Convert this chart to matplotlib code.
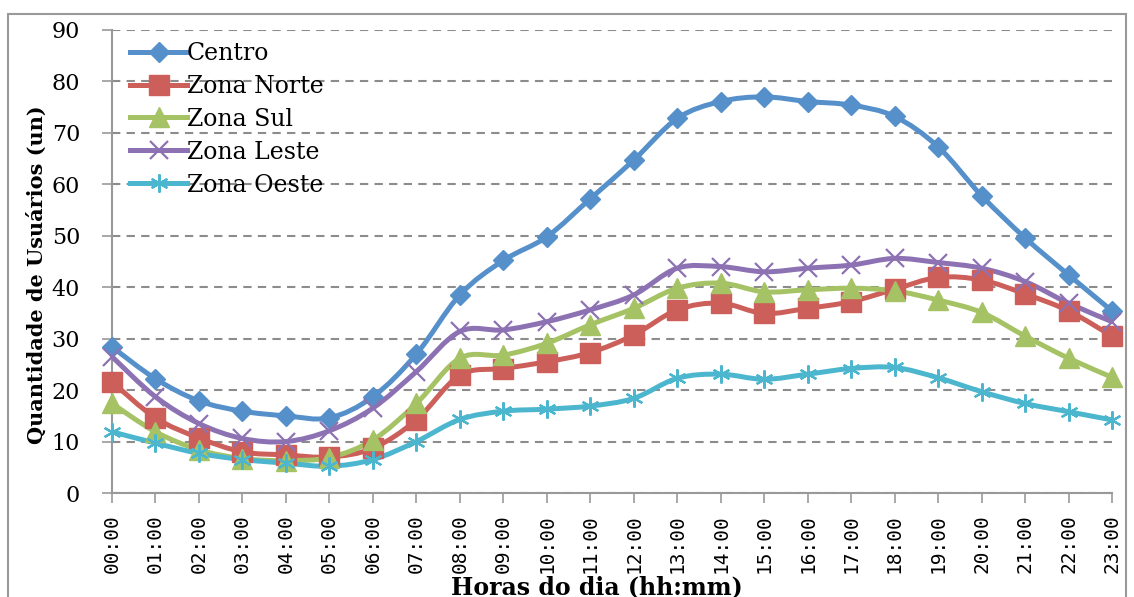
import numpy as np
import matplotlib
matplotlib.use('Agg')
import matplotlib.pyplot as plt
from matplotlib.path import Path
from matplotlib.patches import PathPatch, Rectangle
from matplotlib.lines import Line2D

# dados
horas = ['%02d:00' % h for h in range(24)]
centro = [28.4, 22.2, 17.9, 15.9, 15.0, 14.6, 18.7, 27.0, 38.5, 45.2, 49.8, 57.2,
          64.7, 72.8, 76.1, 77.0, 76.1, 75.4, 73.2, 67.3, 57.8, 49.6, 42.4, 35.4]
zona_norte = [21.6, 14.6, 10.7, 8.0, 7.4, 7.0, 8.7, 14.2, 22.9, 24.2, 25.5, 27.3,
              30.7, 35.6, 36.9, 34.9, 35.9, 37.2, 39.6, 41.9, 41.4, 38.7, 35.4, 30.5]
zona_sul = [17.4, 11.9, 8.4, 6.7, 6.3, 6.9, 10.3, 17.4, 26.2, 26.8, 29.1, 32.7,
            35.9, 39.8, 40.8, 39.1, 39.5, 39.8, 39.3, 37.5, 35.1, 30.5, 26.2, 22.5]
zona_leste = [26.5, 18.7, 13.5, 10.6, 10.0, 12.1, 16.5, 23.6, 31.4, 31.7, 33.3, 35.6,
              38.5, 43.7, 44.0, 43.0, 43.7, 44.3, 45.6, 44.8, 43.7, 41.1, 36.9, 33.3]
zona_oeste = [11.9, 9.7, 7.7, 6.5, 5.8, 5.2, 6.5, 10.0, 14.3, 15.9, 16.3, 16.9,
              18.4, 22.3, 23.1, 22.1, 23.1, 24.2, 24.4, 22.4, 19.7, 17.4, 15.8, 14.2]

# nome, valores, cor, marcador, tamanho, espessura do marcador
series = [
    ('Centro', centro, '#5590CB', 'D', 10, 1),
    ('Zona Norte', zona_norte, '#CD5F5A', 's', 14, 1),
    ('Zona Sul', zona_sul, '#A5C264', '^', 14, 1),
    ('Zona Leste', zona_leste, '#8D72B3', 'x', 13, 1.6),
    ('Zona Oeste', zona_oeste, '#4DB6CF', (6, 2, 0), 13, 1.6),
]


def smooth_path(x, y):
    # curva suavizada tipo excel (bezier cubica)
    x = np.asarray(x, float)
    y = np.asarray(y, float)
    n = len(x)
    verts = [(x[0], y[0])]
    codes = [Path.MOVETO]
    for i in range(n - 1):
        i0 = max(i - 1, 0)
        i3 = min(i + 2, n - 1)
        c1 = (x[i] + (x[i + 1] - x[i0]) / 6.0, y[i] + (y[i + 1] - y[i0]) / 6.0)
        c2 = (x[i + 1] - (x[i3] - x[i]) / 6.0, y[i + 1] - (y[i3] - y[i]) / 6.0)
        verts += [c1, c2, (x[i + 1], y[i + 1])]
        codes += [Path.CURVE4] * 3
    return Path(verts, codes)


plt.rcParams['font.family'] = ['DejaVu Serif']

fig = plt.figure(figsize=(11.34, 5.97), dpi=100)
ax = fig.add_axes([112 / 1134, 1 - 493 / 597, 1000 / 1134, 463 / 597])

x = np.arange(len(horas))
handles = []
for nome, vals, cor, mk, ms, mew in series:
    patch = PathPatch(smooth_path(x, vals), facecolor='none', edgecolor=cor,
                      lw=3.6, zorder=3, capstyle='round', joinstyle='round')
    ax.add_patch(patch)
    ax.plot(x, vals, linestyle='none', marker=mk, ms=ms, color=cor,
            mec=cor, mew=mew, zorder=4, clip_on=False)
    handles.append(Line2D([], [], color=cor, lw=3.6, marker=mk, ms=ms, mec=cor,
                          mew=mew, label=nome))

ax.set_xlim(0, 23)
ax.set_ylim(0, 90)
ax.set_yticks(range(0, 91, 10))
ax.set_xticks(x)
ax.set_xticklabels(horas, rotation=90, fontsize=14, family='DejaVu Sans Mono')
ax.tick_params(axis='y', labelsize=16, length=7, color='#999999', width=1.2, pad=16)
ax.tick_params(axis='x', length=7, color='#999999', width=1.2, pad=8)
ax.grid(axis='y', linestyle=(0, (4, 3)), color='#8c8c8c', lw=1.5)
ax.set_axisbelow(True)
for s in ['top', 'right']:
    ax.spines[s].set_visible(False)
for s in ['left', 'bottom']:
    ax.spines[s].set_color('#999999')
    ax.spines[s].set_linewidth(1.5)

fig.text(37 / 1134, 1 - 275 / 597, 'Quantidade de Usuários (un)', rotation=90,
         fontsize=15, fontweight='bold', ha='center', va='center')
fig.text(597 / 1134, 1 - 594 / 597, 'Horas do dia (hh:mm)', fontsize=17,
         fontweight='bold', ha='center', va='baseline')

ax.legend(handles=handles, loc='upper left', bbox_to_anchor=(0.004, 1.005), frameon=False,
          fontsize=17, handlelength=2.4, handletextpad=0.0, labelspacing=0.42,
          borderaxespad=0.2)

# moldura externa
fig.patches.append(Rectangle((8 / 1134, -0.05), 1 - 16 / 1134, 1 - 14 / 597 + 0.05,
                             transform=fig.transFigure, fill=False,
                             edgecolor='#999999', lw=1.5))

fig.savefig('out.png', dpi=100)
